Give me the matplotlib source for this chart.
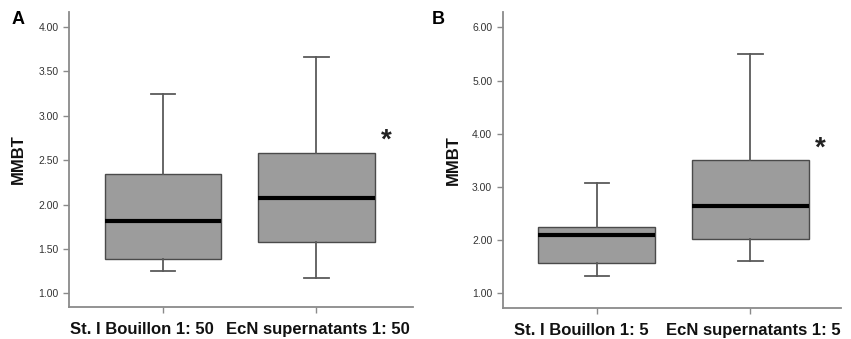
import matplotlib
matplotlib.use("Agg")
import matplotlib.pyplot as plt
from matplotlib.transforms import ScaledTranslation

plt.rcParams['font.family'] = ['Liberation Sans', 'DejaVu Sans']

# panel A (1:50 dilution)
labels_a = ['St. I Bouillon 1: 50', 'EcN supernatants 1: 50']
whislo_a = [1.25, 1.17]
q1_a = [1.39, 1.575]
med_a = [1.82, 2.07]
q3_a = [2.35, 2.58]
whishi_a = [3.25, 3.66]
star_a = 2.72
yticks_a = [1.00, 1.50, 2.00, 2.50, 3.00, 3.50, 4.00]

# panel B (1:5 dilution)
labels_b = ['St. I Bouillon 1: 5', 'EcN supernatants 1: 5']
whislo_b = [1.33, 1.61]
q1_b = [1.56, 2.01]
med_b = [2.10, 2.64]
q3_b = [2.25, 3.51]
whishi_b = [3.07, 5.50]
star_b = 3.72
yticks_b = [1.00, 2.00, 3.00, 4.00, 5.00, 6.00]

spine_col = '#8a8a8a'


def draw_panel(ax, labels, wlo, q1, med, q3, whi, star, yticks, ylim, xlim, lab_shift):
    stats = []
    for i in range(len(labels)):
        stats.append(dict(label=labels[i], whislo=wlo[i], q1=q1[i], med=med[i],
                          q3=q3[i], whishi=whi[i], fliers=[]))
    ax.bxp(stats, positions=[1, 2], widths=0.76, patch_artist=True,
           showfliers=False,
           boxprops=dict(facecolor='#9c9c9c', edgecolor='#4a4a4a', linewidth=1.0),
           medianprops=dict(color='black', linewidth=3),
           whiskerprops=dict(color='#5a5a5a', linewidth=1.3),
           capprops=dict(color='#5a5a5a', linewidth=1.3),
           capwidths=0.16)
    ax.text(2.455, star, '*', fontsize=20, fontweight='bold', ha='center', va='center',
            color='#222222')
    ax.set_ylim(*ylim)
    ax.set_xlim(*xlim)
    ax.set_yticks(yticks)
    ax.set_yticklabels(['%.2f' % v for v in yticks], fontsize=7.5, color='#333333')
    ax.set_xticks([1, 2])
    ax.set_xticklabels(labels, fontsize=12, fontweight='bold', color='#111111')
    ax.set_ylabel('MMBT', fontsize=12, fontweight='bold', color='#111111')
    ax.yaxis.set_label_coords(-0.125, 0.5)
    for s in ['top', 'right']:
        ax.spines[s].set_visible(False)
    for s in ['left', 'bottom']:
        ax.spines[s].set_color(spine_col)
        ax.spines[s].set_linewidth(1.3)
    ax.tick_params(axis='both', colors=spine_col, length=4, width=1.0)
    ax.tick_params(axis='y', labelcolor='#333333')
    ax.tick_params(axis='x', labelcolor='#111111', pad=7)
    # nudge the category labels sideways so they do not collide
    for lab, dx in zip(ax.get_xticklabels(), lab_shift):
        lab.set_transform(lab.get_transform() +
                          ScaledTranslation(dx / 100, 0, ax.figure.dpi_scale_trans))
    return ax


fig = plt.figure(figsize=(8.51, 3.39), dpi=100)
ax1 = fig.add_axes([0.0814, 0.0944, 0.404, 0.870])
ax2 = fig.add_axes([0.5907, 0.0914, 0.3975, 0.873])

draw_panel(ax1, labels_a, whislo_a, q1_a, med_a, q3_a, whishi_a, star_a,
           yticks_a, (0.845, 4.17), (0.39, 2.63), [-21, 1])
draw_panel(ax2, labels_b, whislo_b, q1_b, med_b, q3_b, whishi_b, star_b,
           yticks_b, (0.72, 6.29), (0.387, 2.59), [-15, 3])

fig.text(18 / 851, 1 - 20 / 339, 'A', fontsize=13, fontweight='bold', ha='center', va='center')
fig.text(438 / 851, 1 - 20 / 339, 'B', fontsize=13, fontweight='bold', ha='center', va='center')

fig.savefig('out.png', dpi=100)
